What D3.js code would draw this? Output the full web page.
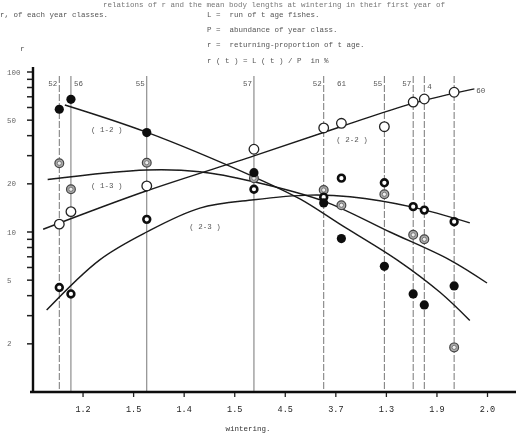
<!DOCTYPE html>
<html>
<head>
<meta charset="utf-8">
<script src="https://cdn.jsdelivr.net/npm/d3@7"></script>
<style>
body { margin: 0; background: #fff; }
text { font-family: "Liberation Mono", "DejaVu Sans Mono", monospace; }
</style>
</head>
<body>
<div id="chart"></div>
<script>
// year classes, one column each (wintering value on x)
var years = ["52", "56", "55", "57", "52", "61", "55", "57", "4", "60"];
var wintering = [1.154, 1.177, 1.327, 1.539, 1.677, 1.712, 1.797, 1.854, 1.876, 1.935];

// returning proportions r (%) per pair of ages
var r12 = [58.5, 67.5, 41.8, 23.5, 15.2, 9.1, 6.1, 4.1, 3.5, 4.6];
var r13 = [26.9, 18.5, 27.1, 21.7, 18.3, 14.7, 17.2, 9.6, 9.0, 1.9];
var r23 = [4.5, 4.1, 12.0, 18.5, 16.5, 21.7, 20.3, 14.4, 13.7, 11.6];
var r22 = [11.2, 13.4, 19.4, 32.9, 44.7, 47.8, 45.5, 64.9, 67.8, 74.7];

// hand drawn fitted curves [wintering, r]
var fit12 = [[1.165, 62.2], [1.325, 42.2], [1.539, 22.1], [1.630, 16.1], [1.709, 11.2], [1.822, 6.7], [1.907, 4.2], [1.966, 2.8]];
var fit13 = [[1.131, 21.3], [1.327, 24.4], [1.432, 23.8], [1.539, 20.6], [1.679, 15.5], [1.808, 10.0], [1.926, 6.7], [2.000, 4.8]];
var fit23 = [[1.129, 3.25], [1.234, 6.7], [1.327, 10.0], [1.432, 14.1], [1.539, 15.9], [1.650, 17.0], [1.729, 16.6], [1.853, 14.3], [1.966, 11.4]];
var fit22 = [[1.122, 10.4], [1.327, 18.1], [1.539, 29.9], [1.709, 45.3], [1.853, 63.7], [1.975, 78.5]];

var curveNames = ["( 1-2 )", "( 1-3 )", "( 2-3 )", "( 2-2 )"];
var curveLabelAt = [[1.248, 42.2], [1.248, 18.8], [1.442, 10.4], [1.733, 36.5]];

var xTicks = [1.2, 1.3, 1.4, 1.5, 1.6, 1.7, 1.8, 1.9, 2.0];
var xTickLabels = ["1.2", "1.5", "1.4", "1.5", "4.5", "3.7", "1.3", "1.9", "2.0"];
var yLabelValues = [100, 50, 20, 10, 5, 2];
var yLabels = ["100", "50", "20", "10", "5", "2"];

var header = [
    "relations of r and the mean body lengths at wintering in their first year of",
    "r, of each year classes.",
    "L =  run of t age fishes.",
    "P =  abundance of year class.",
    "r =  returning-proportion of t age.",
    "r ( t ) = L ( t ) / P  in %"
];

function buildChart(containerId) {
    var width = 516;
    var height = 438;

    var x = d3.scaleLinear().domain([1.1, 2.0]).range([32, 487]);
    var y = d3.scaleLog().domain([1, 100]).range([392, 72]);

    var svg = d3.select(containerId)
        .append('svg')
        .attr('width', width)
        .attr('height', height);

    svg.append('rect').attr('width', width).attr('height', height).attr('fill', '#fff');

    // a little softness, like the scan
    svg.append('defs').append('filter')
        .attr('id', 'scan')
        .append('feGaussianBlur')
        .attr('stdDeviation', 0.35);

    var g = svg.append('g').attr('filter', 'url(#scan)');

    // typed notes on top
    g.append('text').attr('x', 103).attr('y', 7).attr('font-size', 7.5).attr('fill', '#777').text(header[0]);
    g.append('text').attr('x', 0).attr('y', 17).attr('font-size', 7.5).attr('fill', '#555').text(header[1]);
    g.selectAll('.note')
        .data(header.slice(2))
        .enter()
        .append('text')
        .attr('class', 'note')
        .attr('x', 207)
        .attr('y', function(d, i) { return 17 + i * 15.2; })
        .attr('font-size', 7.5)
        .attr('fill', '#555')
        .style('white-space', 'pre')
        .text(function(d) { return d; });

    g.append('text').attr('x', 20).attr('y', 51).attr('font-size', 8).attr('fill', '#555').text('r');

    // column lines for each year class
    var dashedCols = [0, 4, 6, 7, 8, 9];
    g.selectAll('.col')
        .data(wintering.filter(function(d, i) { return years[i] != "61"; }))
        .enter()
        .append('line')
        .attr('class', 'col')
        .attr('x1', function(d) { return x(d); })
        .attr('x2', function(d) { return x(d); })
        .attr('y1', 76)
        .attr('y2', 392)
        .attr('stroke', '#777')
        .attr('stroke-width', 1)
        .attr('stroke-dasharray', function(d) {
            var i = wintering.indexOf(d);
            return dashedCols.indexOf(i) >= 0 ? '7,2' : null;
        });

    var yearSide = ['l', 'r', 'l', 'l', 'l', 'c', 'l', 'l', 'r', 'e'];
    g.selectAll('.year')
        .data(years)
        .enter()
        .append('text')
        .attr('class', 'year')
        .attr('font-size', 7.5)
        .attr('fill', '#555')
        .attr('x', function(d, i) {
            if (yearSide[i] == 'l') return x(wintering[i]) - 2;
            if (yearSide[i] == 'r') return x(wintering[i]) + 3;
            if (yearSide[i] == 'e') return x(fit22[fit22.length - 1][0]) + 2;
            return x(wintering[i]);
        })
        .attr('y', function(d, i) { return yearSide[i] == 'e' ? 93 : (yearSide[i] == 'r' && i > 5 ? 89 : 86); })
        .attr('text-anchor', function(d, i) {
            return yearSide[i] == 'l' ? 'end' : (yearSide[i] == 'c' ? 'middle' : 'start');
        })
        .text(function(d) { return d; });

    // axes
    var minor = [];
    for (var v = 2; v < 10; v++) minor.push(v);
    for (var w = 10; w <= 100; w += 10) minor.push(w);

    g.selectAll('.ytick')
        .data(minor)
        .enter()
        .append('line')
        .attr('class', 'ytick')
        .attr('x1', 27)
        .attr('x2', 33)
        .attr('y1', function(d) { return y(d); })
        .attr('y2', function(d) { return y(d); })
        .attr('stroke', '#222')
        .attr('stroke-width', 1.5);

    g.selectAll('.ylab')
        .data(yLabelValues)
        .enter()
        .append('text')
        .attr('class', 'ylab')
        .attr('x', 7)
        .attr('y', function(d) { return y(d) + 2.5; })
        .attr('font-size', 7.5)
        .attr('fill', '#666')
        .text(function(d, i) { return yLabels[i]; });

    var xAxis = d3.axisBottom(x)
        .tickValues(xTicks)
        .tickSize(5)
        .tickFormat(function(d, i) { return xTickLabels[i]; });

    var xg = g.append('g')
        .attr('transform', 'translate(0,392)')
        .call(xAxis);
    xg.select('.domain').remove();
    xg.selectAll('line').attr('stroke', '#222').attr('stroke-width', 1.3);
    xg.selectAll('text')
        .attr('font-family', '"Liberation Mono", monospace')
        .attr('font-size', 8.5)
        .attr('fill', '#222')
        .attr('y', 14);

    g.append('line')
        .attr('x1', 33).attr('x2', 33)
        .attr('y1', 67).attr('y2', 393)
        .attr('stroke', '#111').attr('stroke-width', 2.4);
    g.append('line')
        .attr('x1', 30).attr('x2', 516)
        .attr('y1', 392).attr('y2', 392)
        .attr('stroke', '#111').attr('stroke-width', 2.4);

    g.append('text')
        .attr('x', 248)
        .attr('y', 431)
        .attr('text-anchor', 'middle')
        .attr('font-size', 7.5)
        .attr('fill', '#333')
        .text('wintering.');

    // fitted curves
    var line = d3.line()
        .x(function(d) { return x(d[0]); })
        .y(function(d) { return y(d[1]); })
        .curve(d3.curveCatmullRom.alpha(0.5));

    g.selectAll('.fit')
        .data([fit12, fit13, fit23, fit22])
        .enter()
        .append('path')
        .attr('class', 'fit')
        .attr('d', line)
        .attr('fill', 'none')
        .attr('stroke', '#1a1a1a')
        .attr('stroke-width', 1.4);

    g.selectAll('.cname')
        .data(curveNames)
        .enter()
        .append('text')
        .attr('class', 'cname')
        .attr('x', function(d, i) { return x(curveLabelAt[i][0]); })
        .attr('y', function(d, i) { return y(curveLabelAt[i][1]); })
        .attr('text-anchor', 'middle')
        .attr('font-size', 7.5)
        .attr('fill', '#555')
        .style('white-space', 'pre')
        .text(function(d) { return d; });

    function pts(values) {
        return values.map(function(v, i) { return [wintering[i], v]; });
    }

    // ( 2-2 ) open circles
    g.selectAll('.p22')
        .data(pts(r22))
        .enter()
        .append('circle')
        .attr('cx', function(d) { return x(d[0]); })
        .attr('cy', function(d) { return y(d[1]); })
        .attr('r', 4.8)
        .attr('fill', '#fff')
        .attr('stroke', '#222')
        .attr('stroke-width', 1.3);

    // ( 1-3 ) double circles
    var p13 = g.selectAll('.p13')
        .data(pts(r13))
        .enter()
        .append('g')
        .attr('transform', function(d) { return 'translate(' + x(d[0]) + ',' + y(d[1]) + ')'; });
    p13.append('circle').attr('r', 4.4).attr('fill', '#aaa').attr('stroke', '#444').attr('stroke-width', 1.2);
    p13.append('circle').attr('r', 2.1).attr('fill', '#eee').attr('stroke', '#666').attr('stroke-width', 0.8);

    // ( 2-3 ) thick rings
    g.selectAll('.p23')
        .data(pts(r23))
        .enter()
        .append('circle')
        .attr('cx', function(d) { return x(d[0]); })
        .attr('cy', function(d) { return y(d[1]); })
        .attr('r', 3.4)
        .attr('fill', '#fff')
        .attr('stroke', '#111')
        .attr('stroke-width', 2.6);

    // ( 1-2 ) filled dots
    g.selectAll('.p12')
        .data(pts(r12))
        .enter()
        .append('circle')
        .attr('cx', function(d) { return x(d[0]); })
        .attr('cy', function(d) { return y(d[1]); })
        .attr('r', 4.6)
        .attr('fill', '#111');
}

buildChart('#chart');
</script>
</body>
</html>
